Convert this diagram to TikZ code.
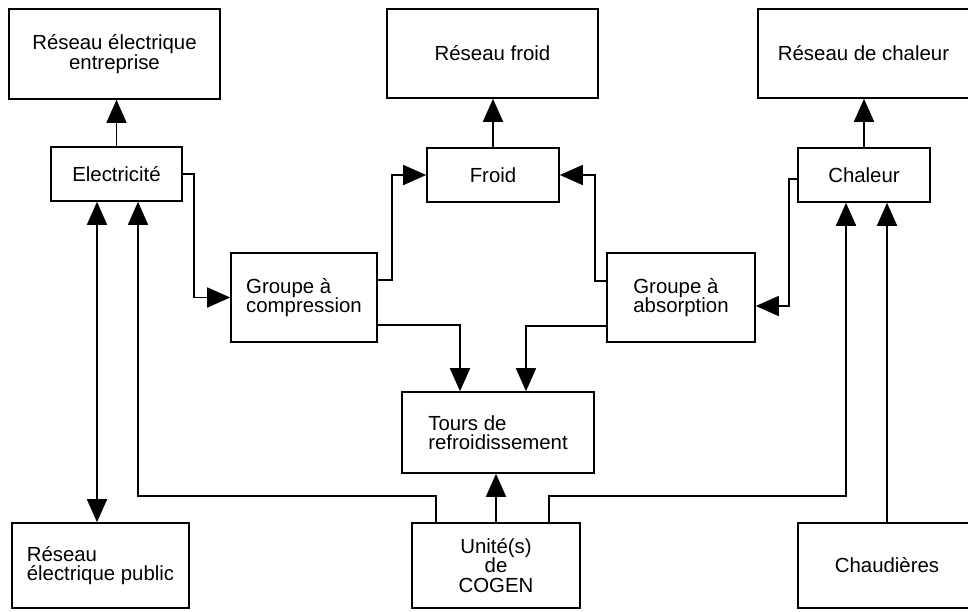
\documentclass[tikz,border=0pt]{standalone}
\usepackage{fontspec}
\setmainfont{Liberation Sans}
\usetikzlibrary{
    arrows.meta,
    positioning
}

\begin{document}
\begin{tikzpicture}[
    x=0.5pt, y=-0.5pt,
    boxnode/.style  = {rectangle, draw, line width=0.8pt, inner sep=0pt,
                       align=center, font=\fontsize{10.2}{9.8}\selectfont},
    leftnode/.style = {boxnode, align=left},
    flow/.style     = {line width=0.8pt,
                       -{Triangle[length=11.5pt, width=10pt]}},
    twoway/.style   = {line width=0.8pt,
                       {Triangle[length=11.5pt, width=10pt]}-{Triangle[length=11.5pt, width=10pt]}},
]
    \useasboundingbox (0,0) rectangle (968,611);

    %Nodes
    \node[boxnode, minimum width=105.5pt, minimum height=45pt]
        (reseauentreprise) at (114.5,54)  {Réseau électrique\\entreprise};
    \node[boxnode, minimum width=105.5pt, minimum height=44.5pt]
        (reseaufroid)      at (492.5,53.5) {Réseau froid};
    \node[boxnode, minimum width=105.5pt, minimum height=44.5pt]
        (reseauchaleur)    at (863.5,53.5) {Réseau de chaleur};

    \node[boxnode, minimum width=65.5pt, minimum height=27pt]
        (electricite) at (116.5,174) {Electricité};
    \node[boxnode, minimum width=66pt, minimum height=27pt]
        (froid)       at (493,175)   {Froid};
    \node[boxnode, minimum width=66pt, minimum height=27pt]
        (chaleur)     at (864,175)   {Chaleur};

    \node[leftnode, minimum width=73pt, minimum height=44.5pt]
        (compression) at (304,297.5) {Groupe à\\compression};
    \node[leftnode, minimum width=74pt, minimum height=44.5pt]
        (absorption)  at (681,297.5) {Groupe à\\absorption};

    \node[leftnode, minimum width=96pt, minimum height=40.5pt]
        (tours) at (498,432.5) {Tours de\\refroidissement};

    \node[leftnode, minimum width=88.5pt, minimum height=42.5pt]
        (reseaupublic) at (100.5,565.5) {Réseau\\électrique public};
    \node[boxnode, minimum width=84pt, minimum height=42.5pt]
        (cogen)        at (496,565.5)   {Unité(s)\\de\\COGEN};
    \node[boxnode, minimum width=89pt, minimum height=42.5pt]
        (chaudieres)   at (887,565.5)   {Chaudières};

    %Lines
    \draw[flow] (electricite.north) -- (electricite.north |- reseauentreprise.south);
    \draw[flow] (froid.north) -- (froid.north |- reseaufroid.south);
    \draw[flow] (chaleur.north) -- (chaleur.north |- reseauchaleur.south);

    \draw[flow] (electricite.east) -- ++(11,0) |- (compression.west);
    \draw[flow] ([yshift=8.75pt]compression.east) -- ++(14,0) |- (froid.west);
    \draw[flow] ([yshift=-13.75pt]compression.east) -| ([xshift=-19pt]tours.north);
    \draw[flow] ([yshift=8.25pt]absorption.west) -- ++(-11,0) |- (froid.east);
    \draw[flow] ([yshift=-14.25pt]absorption.west) -| ([xshift=14pt]tours.north);
    \draw[flow] ([yshift=-2pt]chaleur.west) -- ++(-8,0)
                |- ([yshift=-4.25pt]absorption.east);

    \draw[flow] (cogen.north) -- (cogen.north |- tours.south);
    \draw[flow] ([xshift=-30pt]cogen.north) -- ++(0,-26)
                -| ([xshift=10.75pt]electricite.south);
    \draw[flow] ([xshift=26.5pt]cogen.north) -- ++(0,-26)
                -| ([xshift=-9pt]chaleur.south);
    \draw[flow] (chaudieres.north) -- (chaudieres.north |- chaleur.south);
    \draw[twoway] ([xshift=-9.75pt]electricite.south)
        -- ([xshift=-9.75pt]electricite.south |- reseaupublic.north);
\end{tikzpicture}
\end{document}
